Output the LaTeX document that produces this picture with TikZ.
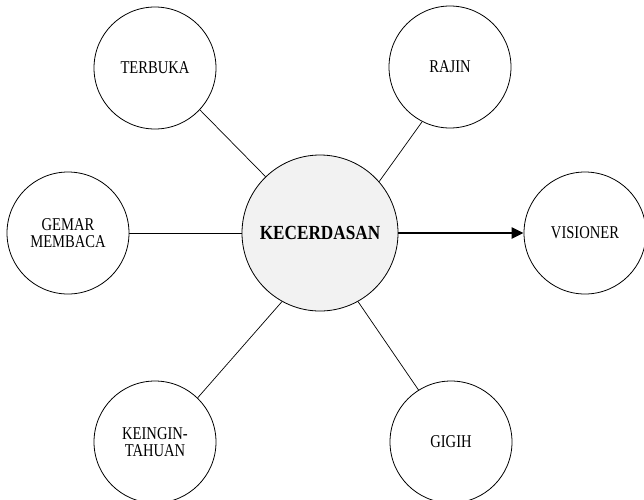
\documentclass[tikz,border=0pt]{standalone}
\usepackage{fontspec}
\setmainfont{Liberation Serif}
\newfontfamily\traitfont{Liberation Serif}[FakeStretch=0.81]
\newfontfamily\corefont{Liberation Serif}[FakeStretch=0.86]
\usetikzlibrary{arrows.meta}
\begin{document}
\begin{tikzpicture}[x=1pt,y=-1pt,
  trait/.style={circle,draw,line width=0.8pt,minimum size=122pt,inner sep=0pt,
    align=center,font=\traitfont\fontsize{18}{17}\selectfont},
  core/.style={circle,draw,line width=0.8pt,fill=black!5,minimum size=156pt,inner sep=0pt,
    font=\corefont\fontsize{20}{22}\selectfont\bfseries},
  link/.style={line width=0.7pt},
  lead/.style={line width=2.2pt,-{Triangle[length=12pt,width=11pt]}}]
\useasboundingbox (0,0) rectangle (644,499);
\node[core] (k) at (320,233) {KECERDASAN};
\node[trait] (t) at (155,68) {TERBUKA};
\node[trait] (r) at (450,67) {RAJIN};
\node[trait] (g) at (68,233) {GEMAR\\MEMBACA};
\node[trait] (v) at (585,233) {VISIONER};
\node[trait] (ke) at (155,442) {KEINGIN-\\TAHUAN};
\node[trait] (gi) at (451,442) {GIGIH};
\draw[link] (k.134) -- (t.317);
\draw[link] (k.41) -- (r.243);
\draw[link] (k.west) -- (g.east);
\draw[link] (k.241) -- (ke.46);
\draw[link] (k.299) -- (gi.122);
\draw[lead] (k.east) -- (v.west);
\end{tikzpicture}
\end{document}
